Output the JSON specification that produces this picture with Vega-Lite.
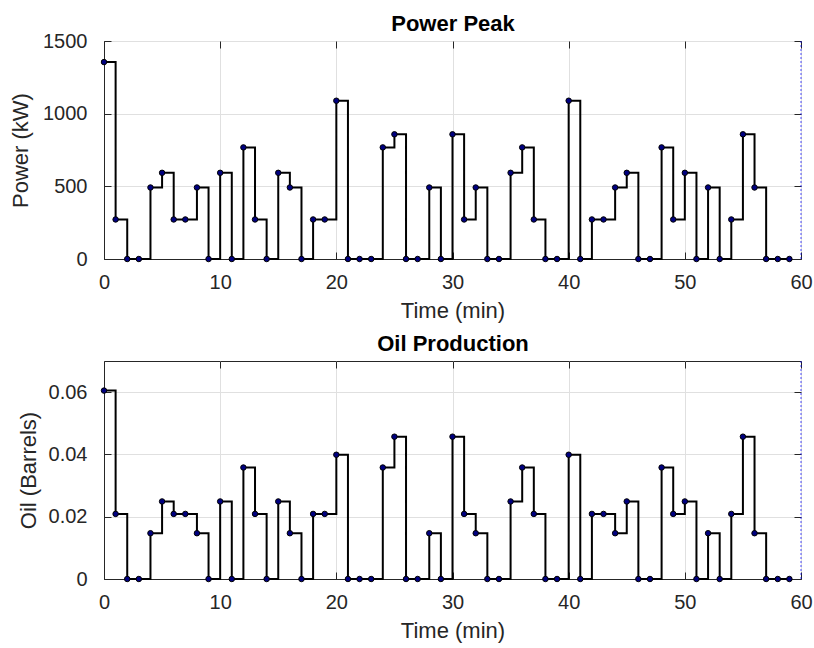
{
  "$schema": "https://vega.github.io/schema/vega-lite/v6.json",
  "background": "white",
  "padding": {"left": 9, "top": 12, "right": 5, "bottom": 5},
  "datasets": {
    "d": [
      {"minute": 0, "power": 1355, "oil": 0.0605},
      {"minute": 1, "power": 272, "oil": 0.0209},
      {"minute": 2, "power": 0, "oil": 0},
      {"minute": 3, "power": 0, "oil": 0},
      {"minute": 4, "power": 492, "oil": 0.0147},
      {"minute": 5, "power": 593, "oil": 0.0249},
      {"minute": 6, "power": 272, "oil": 0.0209},
      {"minute": 7, "power": 272, "oil": 0.0209},
      {"minute": 8, "power": 492, "oil": 0.0147},
      {"minute": 9, "power": 0, "oil": 0},
      {"minute": 10, "power": 593, "oil": 0.0249},
      {"minute": 11, "power": 0, "oil": 0},
      {"minute": 12, "power": 768, "oil": 0.0358},
      {"minute": 13, "power": 272, "oil": 0.0209},
      {"minute": 14, "power": 0, "oil": 0},
      {"minute": 15, "power": 593, "oil": 0.0249},
      {"minute": 16, "power": 492, "oil": 0.0147},
      {"minute": 17, "power": 0, "oil": 0},
      {"minute": 18, "power": 272, "oil": 0.0209},
      {"minute": 19, "power": 272, "oil": 0.0209},
      {"minute": 20, "power": 1089, "oil": 0.0399},
      {"minute": 21, "power": 0, "oil": 0},
      {"minute": 22, "power": 0, "oil": 0},
      {"minute": 23, "power": 0, "oil": 0},
      {"minute": 24, "power": 768, "oil": 0.0358},
      {"minute": 25, "power": 858, "oil": 0.0457},
      {"minute": 26, "power": 0, "oil": 0},
      {"minute": 27, "power": 0, "oil": 0},
      {"minute": 28, "power": 492, "oil": 0.0147},
      {"minute": 29, "power": 0, "oil": 0},
      {"minute": 30, "power": 858, "oil": 0.0457},
      {"minute": 31, "power": 272, "oil": 0.0209},
      {"minute": 32, "power": 492, "oil": 0.0147},
      {"minute": 33, "power": 0, "oil": 0},
      {"minute": 34, "power": 0, "oil": 0},
      {"minute": 35, "power": 593, "oil": 0.0249},
      {"minute": 36, "power": 768, "oil": 0.0358},
      {"minute": 37, "power": 272, "oil": 0.0209},
      {"minute": 38, "power": 0, "oil": 0},
      {"minute": 39, "power": 0, "oil": 0},
      {"minute": 40, "power": 1089, "oil": 0.0399},
      {"minute": 41, "power": 0, "oil": 0},
      {"minute": 42, "power": 272, "oil": 0.0209},
      {"minute": 43, "power": 272, "oil": 0.0209},
      {"minute": 44, "power": 492, "oil": 0.0147},
      {"minute": 45, "power": 593, "oil": 0.0249},
      {"minute": 46, "power": 0, "oil": 0},
      {"minute": 47, "power": 0, "oil": 0},
      {"minute": 48, "power": 768, "oil": 0.0358},
      {"minute": 49, "power": 272, "oil": 0.0209},
      {"minute": 50, "power": 593, "oil": 0.0249},
      {"minute": 51, "power": 0, "oil": 0},
      {"minute": 52, "power": 492, "oil": 0.0147},
      {"minute": 53, "power": 0, "oil": 0},
      {"minute": 54, "power": 272, "oil": 0.0209},
      {"minute": 55, "power": 858, "oil": 0.0457},
      {"minute": 56, "power": 492, "oil": 0.0147},
      {"minute": 57, "power": 0, "oil": 0},
      {"minute": 58, "power": 0, "oil": 0},
      {"minute": 59, "power": 0, "oil": 0}
    ]
  },
  "config": {
    "font": "Liberation Sans",
    "view": {"stroke": "#262626", "strokeWidth": 1},
    "axis": {
      "labelFont": "Liberation Sans",
      "labelFontSize": 20,
      "labelColor": "#262626",
      "labelFlush": false,
      "titleFont": "Liberation Sans",
      "titleFontSize": 22,
      "titleFontWeight": "normal",
      "titleColor": "#262626",
      "domainColor": "#262626",
      "tickColor": "#262626",
      "gridColor": "#e0e0e0",
      "gridOpacity": 1,
      "tickSize": -7
    }
  },
  "spacing": 10,
  "vconcat": [
    {
      "width": 697,
      "height": 218,
      "data": {"name": "d"},
      "layer": [
        {
          "mark": {"type": "line", "interpolate": "step-after", "color": "#000000", "strokeWidth": 2},
          "encoding": {
            "x": {"field": "minute", "type": "quantitative", "scale": {"domain": [0, 60], "nice": false}, "axis": {"orient": "bottom", "values": [0, 10, 20, 30, 40, 50, 60], "title": "Time (min)", "labelPadding": 20, "titlePadding": 8}},
            "y": {"field": "power", "type": "quantitative", "scale": {"domain": [0, 1500], "nice": false}, "axis": {"orient": "left", "values": [0, 500, 1000, 1500], "format": "d", "title": "Power (kW)", "labelPadding": 24, "titlePadding": 10}}
          }
        },
        {
          "mark": {"type": "circle", "size": 30, "color": "#000080", "stroke": "#000000", "strokeWidth": 1, "opacity": 1},
          "encoding": {
            "x": {"field": "minute", "type": "quantitative", "axis": {"orient": "top", "values": [0, 10, 20, 30, 40, 50, 60], "labels": false, "title": "Power Peak", "titleFontWeight": "bold", "titleColor": "#000000", "titleFontSize": 22, "titlePadding": 5, "grid": false, "domain": false}},
            "y": {"field": "power", "type": "quantitative", "axis": {"orient": "right", "values": [0, 500, 1000, 1500], "labels": false, "title": null, "grid": false, "domain": false}}
          }
        },
        {
          "data": {"values": [{}]},
          "mark": {"type": "rule", "color": "#0000ff", "strokeDash": [2, 2], "strokeWidth": 1, "opacity": 0.7},
          "encoding": {"x": {"datum": 60, "axis": null}}
        }
      ],
      "resolve": {"axis": {"x": "independent", "y": "independent"}}
    },
    {
      "width": 697,
      "height": 218,
      "data": {"name": "d"},
      "layer": [
        {
          "mark": {"type": "line", "interpolate": "step-after", "color": "#000000", "strokeWidth": 2},
          "encoding": {
            "x": {"field": "minute", "type": "quantitative", "scale": {"domain": [0, 60], "nice": false}, "axis": {"orient": "bottom", "values": [0, 10, 20, 30, 40, 50, 60], "title": "Time (min)", "labelPadding": 20, "titlePadding": 8}},
            "y": {"field": "oil", "type": "quantitative", "scale": {"domain": [0, 0.07], "nice": false}, "axis": {"orient": "left", "values": [0, 0.02, 0.04, 0.06], "format": ".2~f", "title": "Oil (Barrels)", "labelPadding": 24, "titlePadding": 8}}
          }
        },
        {
          "mark": {"type": "circle", "size": 30, "color": "#000080", "stroke": "#000000", "strokeWidth": 1, "opacity": 1},
          "encoding": {
            "x": {"field": "minute", "type": "quantitative", "axis": {"orient": "top", "values": [0, 10, 20, 30, 40, 50, 60], "labels": false, "title": "Oil Production", "titleFontWeight": "bold", "titleColor": "#000000", "titleFontSize": 22, "titlePadding": 5, "grid": false, "domain": false}},
            "y": {"field": "oil", "type": "quantitative", "axis": {"orient": "right", "values": [0, 0.02, 0.04, 0.06], "labels": false, "title": null, "grid": false, "domain": false}}
          }
        },
        {
          "data": {"values": [{}]},
          "mark": {"type": "rule", "color": "#0000ff", "strokeDash": [2, 2], "strokeWidth": 1, "opacity": 0.7},
          "encoding": {"x": {"datum": 60, "axis": null}}
        }
      ],
      "resolve": {"axis": {"x": "independent", "y": "independent"}}
    }
  ]
}
